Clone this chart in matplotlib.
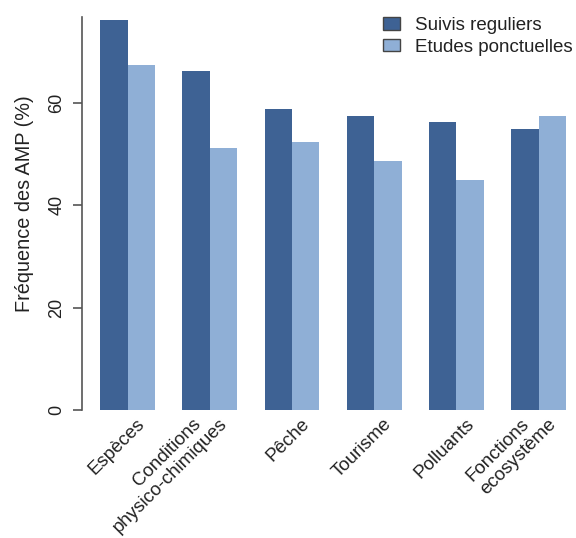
import matplotlib
matplotlib.use("Agg")
import matplotlib.pyplot as plt
import matplotlib.transforms as mtransforms
from matplotlib.patches import Patch
import numpy as np

plt.rcParams['font.family'] = ['Liberation Sans', 'DejaVu Sans']

categories = ["Espèces", "Conditions\nphysico-chimiques", "Pêche", "Tourisme",
              "Polluants", "Fonctions\necosystème"]
suivis_reguliers = [76.2, 66.3, 58.8, 57.5, 56.2, 55.0]
etudes_ponctuelles = [67.4, 51.2, 52.4, 48.7, 44.9, 57.5]
series_names = ["Suivis reguliers", "Etudes ponctuelles"]
yticks = [0, 20, 40, 60]

dark = "#3E6294"
light = "#8FAFD6"
txt = "#222222"
axc = "#555555"

W, H = 576, 538
fig = plt.figure(figsize=(W / 100, H / 100), dpi=100)
left_px, bottom_px, top_px = 81.5, 425.6, 4.5
ax_h_px = bottom_px - top_px
ax = fig.add_axes([left_px / W, (H - bottom_px) / H, 1 - left_px / W,
                   ax_h_px / H])

n = len(categories)
starts = 1 + 3 * np.arange(n)
ax.bar(starts, suivis_reguliers, width=1, align='edge', color=dark, linewidth=0)
ax.bar(starts + 1, etudes_ponctuelles, width=1, align='edge', color=light, linewidth=0)

ax.set_xlim(0.32, 0.32 + (W - left_px) / 27.4)
ax.set_ylim(-3.05, 79.25)

for s in ['top', 'right', 'bottom']:
    ax.spines[s].set_visible(False)
ax.spines['left'].set_bounds(0, 76.8)
ax.spines['left'].set_color(axc)
ax.spines['left'].set_linewidth(1.2)

ax.set_xticks([])
ax.set_yticks(yticks)
ax.set_yticklabels([str(v) for v in yticks], rotation=90, va='center',
                   fontsize=13, color=txt)
ax.tick_params(axis='y', length=6.5, width=1.2, color=axc, pad=5)

ax.set_ylabel("Fréquence des AMP (%)", fontsize=14.3, color=txt)
ax.yaxis.set_label_coords((34 - left_px) / (W - left_px),
                          (bottom_px - 204) / ax_h_px)

trans = mtransforms.blended_transform_factory(ax.transData, ax.transAxes)
for xs, lab in zip(starts, categories):
    lines = lab.split("\n")
    nl = len(lines)
    for k, line in enumerate(lines):
        dx = (15 - 27 * (nl - 1 - k)) / 100.0
        dy = 4 / 100.0
        t = trans + mtransforms.ScaledTranslation(dx, dy, fig.dpi_scale_trans)
        ax.text(xs + 1, 0.0, line, transform=t, rotation=45,
                rotation_mode='anchor', ha='right', va='center',
                fontsize=13.5, color=txt, clip_on=False)

handles = [Patch(facecolor=dark, edgecolor='#444444', linewidth=1.0),
           Patch(facecolor=light, edgecolor='#444444', linewidth=1.0)]
fig.legend(handles, series_names, loc='upper left',
           bbox_to_anchor=(383 / W, 1 - 17 / H), frameon=False, fontsize=13.5,
           handlelength=0.9, handleheight=0.65, handletextpad=0.8,
           labelspacing=0.25, borderaxespad=0, borderpad=0, labelcolor=txt)

fig.savefig("out.png", dpi=100)
